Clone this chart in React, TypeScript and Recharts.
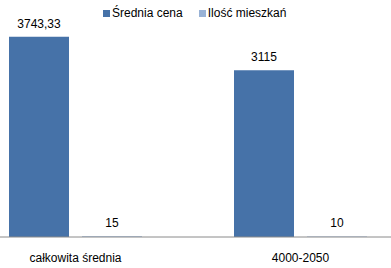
import { BarChart, Bar, XAxis, YAxis, Legend, LabelList } from "recharts";

const categories = ["całkowita średnia", "4000-2050"];
const avgPrice = [3743.33, 3115];
const flatCount = [15, 10];
const seriesNames = ["Średnia cena", "Ilość mieszkań"];

const COLORS = ["#4672A8", "#98B2D6"];
const FONT = "'Liberation Sans', Arial, sans-serif";

const data = categories.map((name, i) => ({
  name,
  price: avgPrice[i],
  count: flatCount[i],
}));

const fmt = (v: any) => String(v).replace(".", ",");

function LegendBox({ payload }: any) {
  const items = [...(payload || [])].sort(
    (a: any, b: any) => seriesNames.indexOf(a.value) - seriesNames.indexOf(b.value)
  );
  return (
    <div style={{ display: "flex", fontFamily: FONT, fontSize: 12, color: "#000" }}>
      {items.map((p: any, i: number) => (
        <div key={i} style={{ display: "flex", alignItems: "center", marginRight: 16 }}>
          <span
            style={{ width: 7, height: 7, background: p.color, marginRight: 2, display: "inline-block" }}
          />
          <span>{p.value}</span>
        </div>
      ))}
    </div>
  );
}

export default function App() {
  return (
    <div
      style={{
        position: "absolute",
        left: 0,
        top: 0,
        width: 391,
        height: 268,
        overflow: "hidden",
        background: "#fff",
      }}
    >
      <div style={{ position: "absolute", left: -37, top: 0 }}>
        <BarChart
          width={450}
          height={268}
          data={data}
          margin={{ top: 9, right: 0, bottom: 0, left: 0 }}
          barGap={13}
          barSize={60}
        >
          <XAxis
            dataKey="name"
            height={31}
            tickLine={false}
            tickMargin={10}
            axisLine={{ stroke: "#8a8a8a" }}
            tick={{ fontSize: 12, fill: "#000", fontFamily: FONT }}
          />
          <YAxis hide domain={[0, 4000]} />
          <Legend
            verticalAlign="top"
            content={<LegendBox />}
            wrapperStyle={{ top: 6, left: 140, width: "auto" }}
          />
          <Bar dataKey="price" name={seriesNames[0]} fill={COLORS[0]} isAnimationActive={false}>
            <LabelList
              dataKey="price"
              position="top"
              offset={9}
              formatter={fmt}
              style={{ fontSize: 12, fill: "#000", fontFamily: FONT }}
            />
          </Bar>
          <Bar dataKey="count" name={seriesNames[1]} fill={COLORS[1]} isAnimationActive={false}>
            <LabelList
              dataKey="count"
              position="top"
              offset={9}
              formatter={fmt}
              style={{ fontSize: 12, fill: "#000", fontFamily: FONT }}
            />
          </Bar>
        </BarChart>
      </div>
    </div>
  );
}
